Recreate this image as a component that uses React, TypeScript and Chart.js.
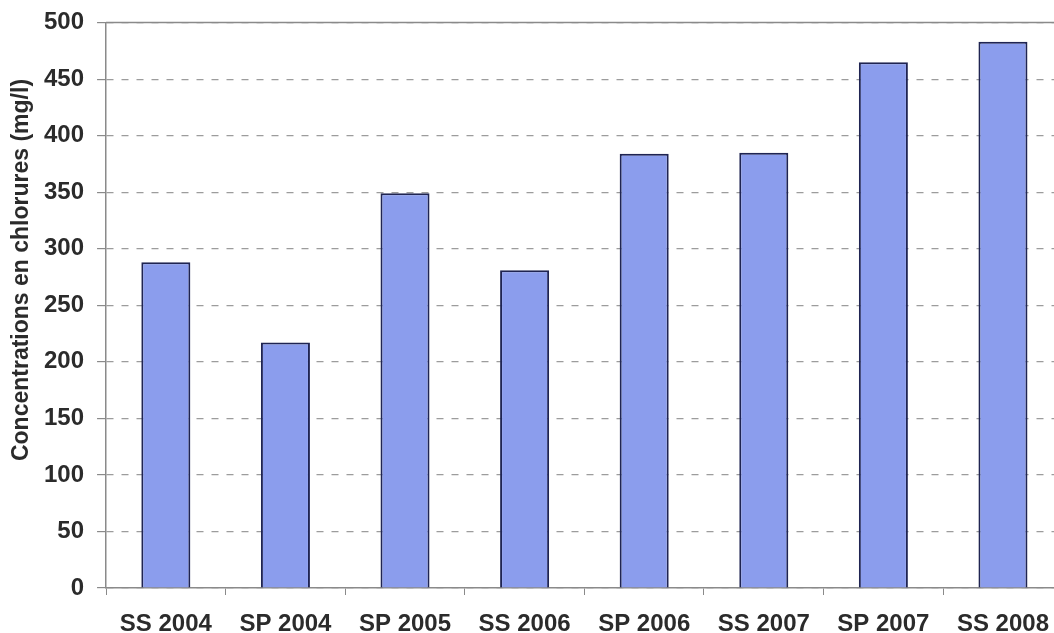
import React, { useEffect, useRef } from "react";
import { Chart, registerables } from "chart.js";

Chart.register(...registerables);

const categories = ["SS 2004", "SP 2004", "SP 2005", "SS 2006", "SP 2006", "SS 2007", "SP 2007", "SS 2008"];
const chlorides = [288, 217, 349, 281, 384, 385, 465, 483];
const yTicks = [0, 50, 100, 150, 200, 250, 300, 350, 400, 450, 500];
const yTitle = "Concentrations en chlorures (mg/l)";

const FONT = "'Liberation Sans', Arial, sans-serif";
const TEXT = "#2b2b2b";
const AXIS = "#8a8a8a";

// Draws the rotated y-axis caption and the solid frame line along the top of the plot.
const framePlugin = {
  id: "frame",
  afterDraw(chart: any) {
    const { ctx, chartArea } = chart;
    ctx.save();
    ctx.strokeStyle = AXIS;
    ctx.lineWidth = 1.5;
    ctx.beginPath();
    ctx.moveTo(chartArea.left, chartArea.top);
    ctx.lineTo(chartArea.right, chartArea.top);
    ctx.stroke();

    ctx.translate(22, 270);
    ctx.rotate(-Math.PI / 2);
    ctx.font = `bold 23px ${FONT}`;
    ctx.fillStyle = TEXT;
    ctx.textAlign = "center";
    ctx.textBaseline = "middle";
    ctx.fillText(yTitle, 0, 0);
    ctx.restore();
  },
};

export default function App() {
  const canvasRef = useRef<HTMLCanvasElement | null>(null);

  useEffect(() => {
    if (!canvasRef.current) return;
    const chart = new Chart(canvasRef.current, {
      type: "bar",
      data: {
        labels: categories,
        datasets: [
          {
            data: chlorides,
            backgroundColor: "#8b9ded",
            borderColor: "#1f2452",
            borderWidth: 2,
            categoryPercentage: 1,
            barPercentage: 0.41,
          },
        ],
      },
      options: {
        animation: false,
        responsive: true,
        maintainAspectRatio: false,
        layout: { padding: { left: 31, top: 22, right: 0, bottom: 0 } },
        plugins: { legend: { display: false }, tooltip: { enabled: false } },
        scales: {
          x: {
            grid: {
              display: true,
              drawOnChartArea: false,
              drawTicks: true,
              tickLength: 7,
              tickColor: AXIS,
              offset: true,
            },
            border: { display: true, color: AXIS, width: 1.5 },
            ticks: {
              color: TEXT,
              font: { family: FONT, size: 24, weight: "bold", lineHeight: 1 },
              padding: 17,
              maxRotation: 0,
              autoSkip: false,
            },
          },
          y: {
            min: 0,
            max: 500,
            afterBuildTicks: (scale: any) => {
              scale.ticks = yTicks.map((v) => ({ value: v }));
            },
            grid: {
              color: "#9c9c9c",
              lineWidth: 1.2,
              drawTicks: true,
              tickLength: 9,
              tickColor: AXIS,
            },
            border: { display: true, color: AXIS, width: 1.5, dash: [7, 8] },
            ticks: {
              color: TEXT,
              font: { family: FONT, size: 24, weight: "bold", lineHeight: 0.8 },
              padding: 13,
            },
          },
        },
      },
      plugins: [framePlugin],
    });
    return () => chart.destroy();
  }, []);

  return (
    <div style={{ position: "fixed", left: 0, top: 0, width: 1066, height: 653, background: "#fff" }}>
      <canvas ref={canvasRef} />
    </div>
  );
}
